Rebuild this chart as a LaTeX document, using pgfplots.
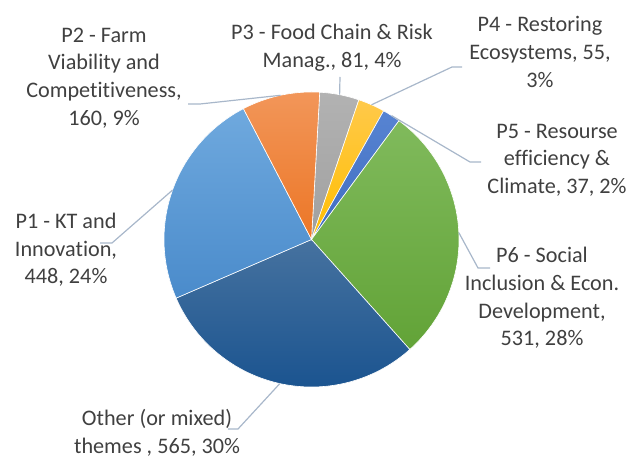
\documentclass[border=0pt]{standalone}
\usepackage{pgfplots}
\pgfplotsset{compat=1.18}
\usepackage{fontspec}
\setmainfont{Carlito}[Ligatures=NoCommon]
\definecolor{txt}{HTML}{404040}
\definecolor{lead}{HTML}{A8B7CA}
% slice colours (top / bottom of gradient)
\definecolor{pOneT}{HTML}{6FA9DE}\definecolor{pOneB}{HTML}{4A8BCB}
\definecolor{pTwoT}{HTML}{F29659}\definecolor{pTwoB}{HTML}{EC7626}
\definecolor{pThrT}{HTML}{B2B2B2}\definecolor{pThrB}{HTML}{A0A0A0}
\definecolor{pFouT}{HTML}{FFC94A}\definecolor{pFouB}{HTML}{FFBE00}
\definecolor{pFivT}{HTML}{5784D2}\definecolor{pFivB}{HTML}{3F6CC0}
\definecolor{pSixT}{HTML}{80BA5C}\definecolor{pSixB}{HTML}{62A337}
\definecolor{othT}{HTML}{46729F}\definecolor{othB}{HTML}{1B5490}
\newcommand\lbl{\fontsize{22.2bp}{27.6bp}\selectfont}
% data values (clockwise from the top)
\def\vThr{81}\def\vFou{55}\def\vFiv{37}\def\vSix{531}\def\vOth{565}\def\vOne{448}\def\vTwo{160}
\pgfmathsetmacro\tot{\vOne+\vTwo+\vThr+\vFou+\vFiv+\vSix+\vOth}
\pgfmathsetmacro\aA{86.8}
\pgfmathsetmacro\aB{\aA-(\vThr/\tot)*360}
\pgfmathsetmacro\aC{\aB-(\vFou/\tot)*360}
\pgfmathsetmacro\aD{\aC-(\vFiv/\tot)*360}
\pgfmathsetmacro\aE{\aD-(\vSix/\tot)*360}
\pgfmathsetmacro\aF{\aE-(\vOth/\tot)*360}
\pgfmathsetmacro\aG{\aF-(\vOne/\tot)*360}
\pgfmathsetmacro\aH{\aG-(\vTwo/\tot)*360}
\def\cx{311.5}\def\cy{218.5}\def\rr{147.5}
\begin{document}
\begin{tikzpicture}
\begin{axis}[width=630bp, height=458bp, scale only axis,
  xmin=0, xmax=630, ymin=0, ymax=458, hide axis, clip=false]
\addplot[draw=white, line width=0.6bp, top color=pThrT, bottom color=pThrB, domain=\aB:\aA, samples=40, variable=\t]
  ({\cx+\rr*cos(\t)}, {\cy+\rr*sin(\t)}) -- (axis cs:\cx,\cy) -- cycle;
\addplot[draw=white, line width=0.6bp, top color=pFouT, bottom color=pFouB, domain=\aC:\aB, samples=30, variable=\t]
  ({\cx+\rr*cos(\t)}, {\cy+\rr*sin(\t)}) -- (axis cs:\cx,\cy) -- cycle;
\addplot[draw=white, line width=0.6bp, top color=pFivT, bottom color=pFivB, domain=\aD:\aC, samples=30, variable=\t]
  ({\cx+\rr*cos(\t)}, {\cy+\rr*sin(\t)}) -- (axis cs:\cx,\cy) -- cycle;
\addplot[draw=white, line width=0.6bp, top color=pSixT, bottom color=pSixB, domain=\aE:\aD, samples=120, variable=\t]
  ({\cx+\rr*cos(\t)}, {\cy+\rr*sin(\t)}) -- (axis cs:\cx,\cy) -- cycle;
\addplot[draw=white, line width=0.6bp, top color=othT, bottom color=othB, domain=\aF:\aE, samples=120, variable=\t]
  ({\cx+\rr*cos(\t)}, {\cy+\rr*sin(\t)}) -- (axis cs:\cx,\cy) -- cycle;
\addplot[draw=white, line width=0.6bp, top color=pOneT, bottom color=pOneB, domain=\aG:\aF, samples=100, variable=\t]
  ({\cx+\rr*cos(\t)}, {\cy+\rr*sin(\t)}) -- (axis cs:\cx,\cy) -- cycle;
\addplot[draw=white, line width=0.6bp, top color=pTwoT, bottom color=pTwoB, domain=\aH:\aG, samples=50, variable=\t]
  ({\cx+\rr*cos(\t)}, {\cy+\rr*sin(\t)}) -- (axis cs:\cx,\cy) -- cycle;
% leader lines
\draw[lead, line width=1.2bp] (axis cs:280.5,362.7) -- (axis cs:200,354) -- (axis cs:188,354);
\draw[lead, line width=1.2bp] (axis cs:339.6,363.3) -- (axis cs:340,381);
\draw[lead, line width=1.2bp] (axis cs:371.5,353.2) -- (axis cs:452,391) -- (axis cs:462,391);
\draw[lead, line width=1.2bp] (axis cs:391.5,342.4) -- (axis cs:470,296) -- (axis cs:481,296);
\draw[lead, line width=1.2bp] (axis cs:458.8,225.4) -- (axis cs:478,190) -- (axis cs:490,190);
\draw[lead, line width=1.2bp] (axis cs:279.8,74.4) -- (axis cs:238,29) -- (axis cs:228,29);
\draw[lead, line width=1.2bp] (axis cs:172.5,267.9) -- (axis cs:112,215) -- (axis cs:100,215);
% labels
\node[align=center, font=\lbl, text=txt] at (axis cs:104,380) {P2 - Farm\\Viability and\\Competitiveness,\\160, 9\%};
\node[align=center, font=\lbl, text=txt] at (axis cs:332,410) {P3 - Food Chain \& Risk\\Manag., 81, 4\%};
\node[align=center, font=\lbl, text=txt] at (axis cs:540,406) {P4 - Restoring\\Ecosystems, 55,\\3\%};
\node[align=center, font=\lbl, text=txt] at (axis cs:557,298) {P5 - Resourse\\efficiency \&\\Climate, 37, 2\%};
\node[align=center, font=\lbl, text=txt] at (axis cs:542,160) {P6 - Social\\Inclusion \& Econ.\\Development,\\531, 28\%};
\node[align=center, font=\lbl, text=txt] at (axis cs:66,208) {P1 - KT and\\Innovation,\\448, 24\%};
\node[align=center, font=\lbl, text=txt] at (axis cs:157,25) {Other (or mixed)\\themes , 565, 30\%};
\end{axis}
\pgfresetboundingbox
\path (current axis.south west) rectangle (current axis.north east);
\end{tikzpicture}
\end{document}
